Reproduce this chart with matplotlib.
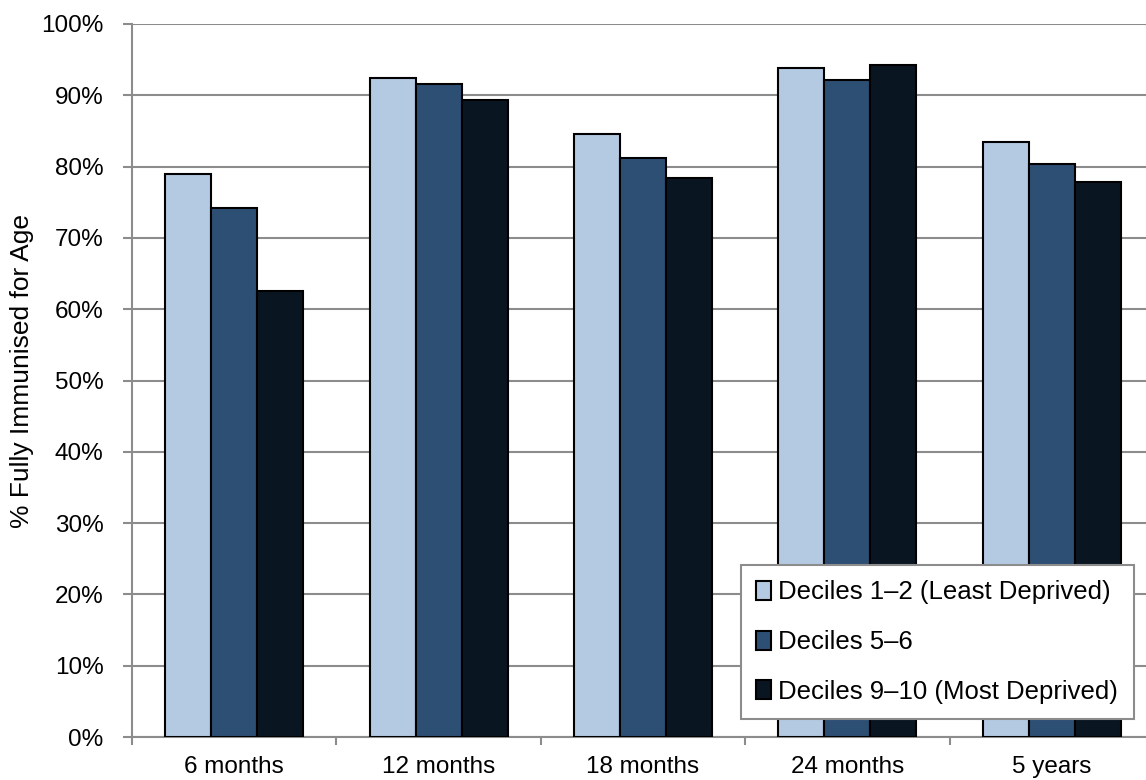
import numpy as np
import matplotlib.pyplot as plt
from matplotlib.ticker import FuncFormatter, MultipleLocator

plt.rcParams['font.family'] = ['Liberation Sans', 'DejaVu Sans']

categories = ['6 months', '12 months', '18 months', '24 months', '5 years']
series = ['Deciles 1\u20132 (Least Deprived)', 'Deciles 5\u20136',
          'Deciles 9\u201310 (Most Deprived)']
least = [79.0, 92.4, 84.6, 93.8, 83.4]
middle = [74.2, 91.6, 81.2, 92.1, 80.4]
most = [62.5, 89.4, 78.4, 94.2, 77.9]
colors = ['#B4C9E2', '#2E4F74', '#0A1522']

W, H = 1146, 780
fig = plt.figure(figsize=(W / 100, H / 100), dpi=100)
# plot area runs past the right edge of the picture, as in the original
x0, x1 = 132, 1154
y0, y1 = 737, 24
ax = fig.add_axes([x0 / W, 1 - y0 / H, (x1 - x0) / W, (y0 - y1) / H])

x = np.arange(len(categories))
bw = 0.225
for i, (vals, c, lab) in enumerate(zip([least, middle, most], colors, series)):
    ax.bar(x + (i - 1) * bw, vals, bw, color=c, edgecolor='black',
           linewidth=1.5, label=lab, zorder=3)

ax.set_xlim(-0.5, len(categories) - 0.5)
ax.set_ylim(0, 100)
ax.yaxis.set_major_locator(MultipleLocator(10))
ax.yaxis.set_major_formatter(FuncFormatter(lambda v, p: f'{v:.0f}%'))
ax.set_xticks(x)
ax.set_xticklabels(categories)
ax.set_xticks(np.arange(-0.5, len(categories)), minor=True)
ax.tick_params(axis='x', which='major', length=0, labelsize=17.5, pad=14)
ax.tick_params(axis='x', which='minor', length=6, width=1.5, color='#8C8C8C')
ax.tick_params(axis='y', length=6.5, width=1.5, color='#8C8C8C', labelsize=17.5, pad=14)
ax.grid(axis='y', color='#8C8C8C', linewidth=1.5, zorder=0)
for s in ['top', 'right']:
    ax.spines[s].set_visible(False)
for s in ['left', 'bottom']:
    ax.spines[s].set_color('#8C8C8C')
    ax.spines[s].set_linewidth(1.5)
ax.set_ylabel('% Fully Immunised for Age', fontsize=19)
ax.yaxis.set_label_coords(-0.096, 0.513)

leg = ax.legend(loc='upper left', bbox_to_anchor=(741 / W, 1 - 565 / H),
                bbox_transform=fig.transFigure, fontsize=18.5,
                handlelength=0.55, handleheight=0.75, handletextpad=0.3,
                labelspacing=1.0, borderpad=0.6, borderaxespad=0,
                fancybox=False, framealpha=1, edgecolor='#8C8C8C')
leg.get_frame().set_linewidth(1.5)

fig.savefig('out.png', dpi=100)
